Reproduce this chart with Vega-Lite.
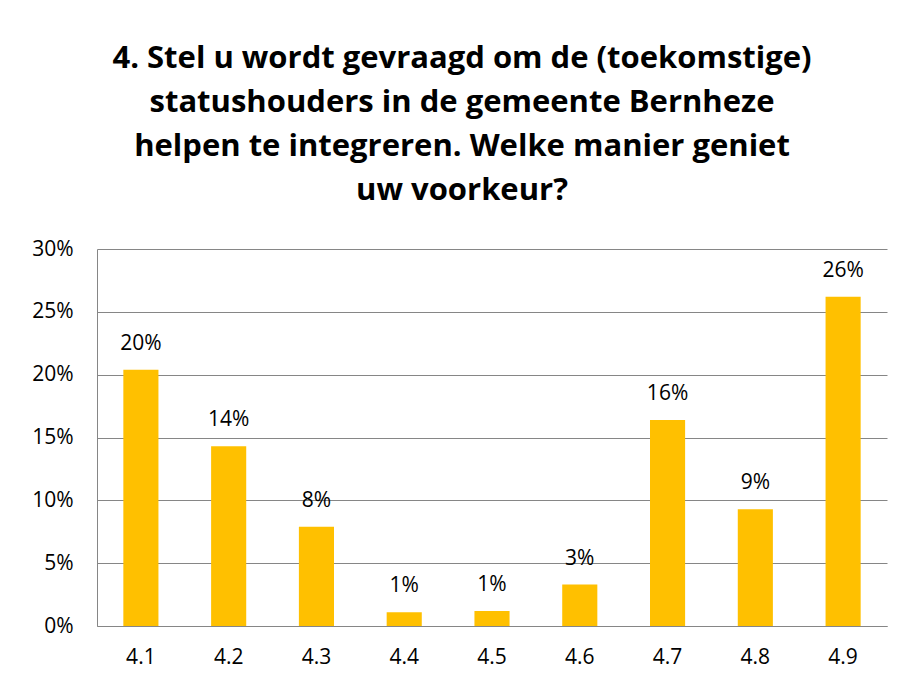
{
  "$schema": "https://vega.github.io/schema/vega-lite/v6.json",
  "width": 790,
  "height": 377,
  "autosize": {"type": "none"},
  "padding": {"left": 97, "top": 249, "right": 16, "bottom": 58},
  "background": "white",
  "title": {
    "text": ["4. Stel u wordt gevraagd om de (toekomstige)", "statushouders in de gemeente Bernheze", "helpen te integreren. Welke manier geniet", "uw voorkeur?"],
    "anchor": "middle",
    "dx": -30,
    "offset": 31,
    "font": "Open Sans",
    "fontSize": 31,
    "fontWeight": "bold",
    "lineHeight": 44,
    "color": "#000000"
  },
  "config": {
    "view": {"stroke": null},
    "font": "Open Sans"
  },
  "data": {
    "values": [
      {"cat": "4.1", "v": 0.204},
      {"cat": "4.2", "v": 0.143},
      {"cat": "4.3", "v": 0.079},
      {"cat": "4.4", "v": 0.011},
      {"cat": "4.5", "v": 0.012},
      {"cat": "4.6", "v": 0.033},
      {"cat": "4.7", "v": 0.164},
      {"cat": "4.8", "v": 0.093},
      {"cat": "4.9", "v": 0.262}
    ]
  },
  "encoding": {
    "x": {
      "field": "cat",
      "type": "nominal",
      "sort": null,
      "scale": {"paddingInner": 0.6, "paddingOuter": 0.3},
      "axis": {
        "title": null,
        "labelAngle": 0,
        "ticks": false,
        "domain": true,
        "domainColor": "#868686",
        "labelFont": "Open Sans",
        "labelFontSize": 21,
        "labelColor": "#000000",
        "labelPadding": 20
      }
    },
    "y": {
      "field": "v",
      "type": "quantitative",
      "scale": {"domain": [0, 0.3]},
      "axis": {
        "title": null,
        "format": ".0%",
        "values": [0, 0.05, 0.1, 0.15, 0.2, 0.25, 0.3],
        "ticks": false,
        "domain": true,
        "domainColor": "#868686",
        "gridColor": "#868686",
        "gridOpacity": 1,
        "labelFont": "Open Sans",
        "labelFontSize": 21,
        "labelColor": "#000000",
        "labelPadding": 24
      }
    }
  },
  "layer": [
    {"mark": {"type": "bar", "color": "#FFC000"}},
    {
      "mark": {"type": "text", "baseline": "alphabetic", "dy": -20, "font": "Open Sans", "fontSize": 21, "color": "#000000"},
      "encoding": {"text": {"field": "v", "type": "quantitative", "format": ".0%"}}
    }
  ]
}
